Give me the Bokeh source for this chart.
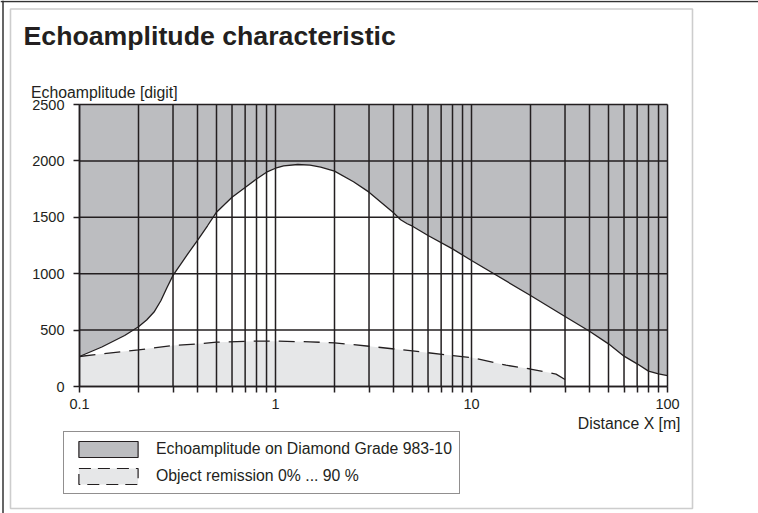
import math
from bokeh.plotting import figure
from bokeh.models import FixedTicker, Label, Legend, LegendItem, BoxAnnotation, Span
from bokeh.embed import file_html
from bokeh.resources import INLINE

# ---------------- data ----------------
# Echoamplitude on Diamond Grade 983-10 (lower edge of the dark area)
diamond_x = [0.1, 0.13, 0.17, 0.2, 0.22, 0.24, 0.26, 0.28, 0.3, 0.33, 0.36, 0.4, 0.45, 0.5, 0.6,
             0.7, 0.8, 0.9, 1.0, 1.1, 1.3, 1.5, 1.7, 2, 2.5, 3, 3.5, 4, 4.35, 4.7, 5, 6, 8, 10,
             20, 30, 40, 50, 60, 70, 80, 90, 100]
diamond_y = [266, 350, 452, 530, 590, 660, 760, 880, 985, 1090, 1185, 1295, 1425, 1545, 1678,
             1765, 1840, 1900, 1935, 1955, 1968, 1962, 1945, 1909, 1815, 1723, 1625, 1540, 1478,
             1443, 1421, 1339, 1220, 1117, 807, 621, 490, 378, 269, 201, 136, 112, 97]
# Object remission 0% ... 90 % (upper dashed curve)
remission_x = [0.1, 0.2, 0.3, 0.4, 0.5, 0.8, 1.0, 1.5, 2, 3, 5, 8, 10, 15, 20, 27, 30]
remission_y = [266, 325, 363, 378, 393, 402, 402, 396, 387, 357, 315, 275, 256, 189, 155, 110, 62]

x_min, x_max = 0.1, 100
y_min, y_max = 0, 2500
x_major_ticks = [0.1, 1, 10, 100]
x_major_labels = ["0.1", "1", "10", "100"]
x_minor_ticks = [0.2, 0.3, 0.4, 0.5, 0.6, 0.7, 0.8, 0.9,
                 2, 3, 4, 5, 6, 7, 8, 9,
                 20, 30, 40, 50, 60, 70, 80, 90]
y_ticks = [0, 500, 1000, 1500, 2000, 2500]

title_text = "Echoamplitude characteristic"
y_label = "Echoamplitude [digit]"
x_label = "Distance X [m]"
legend_labels = ["Echoamplitude on Diamond Grade 983-10", "Object remission 0% ... 90 %"]

# ---------------- layout / style ----------------
INK = "#231f20"
DARK_GRAY = "#bcbdc0"
LIGHT_GRAY = "#e6e7e8"
FONT = "Liberation Sans"
FS = "15.8px"
TICK_FS = "14.5px"

W, H = 758, 513
# pixel position of the data area inside the canvas
PX_L, PX_R, PX_T, PX_B = 79, 667, 104, 386

# extend the ranges so the frame covers the whole canvas and the data area sits at PX_*
dec_px = (PX_R - PX_L) / (math.log10(x_max) - math.log10(x_min))
rx0 = 10 ** (math.log10(x_min) - PX_L / dec_px)
rx1 = 10 ** (math.log10(x_max) + (W - PX_R) / dec_px)
k = (y_max - y_min) / (PX_B - PX_T)
ry0 = y_min - (H - PX_B) * k
ry1 = y_max + PX_T * k

p = figure(width=W, height=H, x_axis_type="log", x_range=(rx0, rx1), y_range=(ry0, ry1),
           output_backend="svg", toolbar_location=None, title=None, min_border=0)
p.background_fill_color = "white"
p.border_fill_color = "white"
p.outline_line_color = None
p.grid.visible = False

# fills
p.varea(x=diamond_x, y1=diamond_y, y2=y_max, fill_color=DARK_GRAY)
p.varea(x=remission_x, y1=y_min, y2=remission_y, fill_color=LIGHT_GRAY)

# grid lines (drawn above the fills)
all_x = x_major_ticks + x_minor_ticks
p.segment(x0=all_x, y0=[y_min] * len(all_x), x1=all_x, y1=[y_max] * len(all_x),
          line_color=INK, line_width=1.5)
p.segment(x0=[x_min] * len(y_ticks), y0=y_ticks, x1=[x_max] * len(y_ticks), y1=y_ticks,
          line_color=INK, line_width=1.5)

# curves
p.line(diamond_x, diamond_y, line_color=INK, line_width=1.3)
p.line(remission_x, remission_y, line_color=INK, line_width=1.3, line_dash="16 9")

# axes, pinned to the data origin
xa, ya = p.xaxis[0], p.yaxis[0]
xa.fixed_location = y_min
ya.fixed_location = x_min
xa.bounds = (x_min, x_max)
ya.bounds = (y_min, y_max)
xa.ticker = FixedTicker(ticks=x_major_ticks, minor_ticks=x_minor_ticks)
ya.ticker = FixedTicker(ticks=y_ticks)
xa.major_label_overrides = dict(zip(x_major_ticks, x_major_labels))
for ax in (xa, ya):
    ax.axis_line_color = INK
    ax.axis_line_width = 1.5
    ax.major_tick_line_color = INK
    ax.major_tick_line_width = 1.5
    ax.major_tick_in = 0
    ax.major_tick_out = 6
    ax.major_label_text_font = FONT
    ax.major_label_text_font_size = TICK_FS
    ax.major_label_text_color = INK
xa.minor_tick_line_color = INK
xa.minor_tick_line_width = 1.5
xa.minor_tick_in = 0
xa.minor_tick_out = 6
xa.major_label_standoff = 6
ya.minor_tick_line_color = None
ya.major_label_standoff = 9

# texts (screen units: x from the left edge, y up from the bottom edge)
def lab(text, px, py, **kw):
    p.add_layout(Label(x=px, y=H - py, x_units="screen", y_units="screen", text=text,
                       text_font=FONT, text_color=INK, text_baseline="middle", **kw))

lab(title_text, 23, 35, text_font_size="26.7px", text_font_style="bold")
lab(y_label, 30.5, 92, text_font_size=FS)
lab(x_label, 680, 423, text_font_size=FS, text_align="right")

# frames
p.add_layout(BoxAnnotation(left=10, right=692, top=H - 8.5, bottom=H - 508,
                           left_units="screen", right_units="screen",
                           top_units="screen", bottom_units="screen",
                           fill_alpha=0, line_color="#5a5a5a", line_width=1.6))
p.add_layout(Span(location=H - 1, location_units="screen", dimension="width",
                  line_color="#333333", line_width=1.5))
p.add_layout(Span(location=2.5, location_units="screen", dimension="height",
                  line_color="#333333", line_width=1.5))

# legend (proxy glyphs lie outside the visible ranges)
r1 = p.quad(left=[1e4], right=[1e4], top=[y_min], bottom=[y_min],
            fill_color=DARK_GRAY, line_color=INK, line_width=1.2)
r2 = p.quad(left=[1e4], right=[1e4], top=[y_min], bottom=[y_min],
            fill_color=LIGHT_GRAY, line_color=INK, line_width=1.2, line_dash="12 7")
legend = Legend(items=[LegendItem(label=legend_labels[0], renderers=[r1]),
                       LegendItem(label=legend_labels[1], renderers=[r2])],
                location=(63, H - 494),
                orientation="vertical", padding=7, spacing=7, margin=0,
                glyph_width=74, glyph_height=20, label_height=20, label_standoff=11,
                label_text_font=FONT, label_text_font_size=FS, label_text_color=INK,
                border_line_color=INK, border_line_width=1.5,
                background_fill_color="white", background_fill_alpha=1.0)
p.add_layout(legend, "center")

open("out.html", "w").write(file_html(p, INLINE))
